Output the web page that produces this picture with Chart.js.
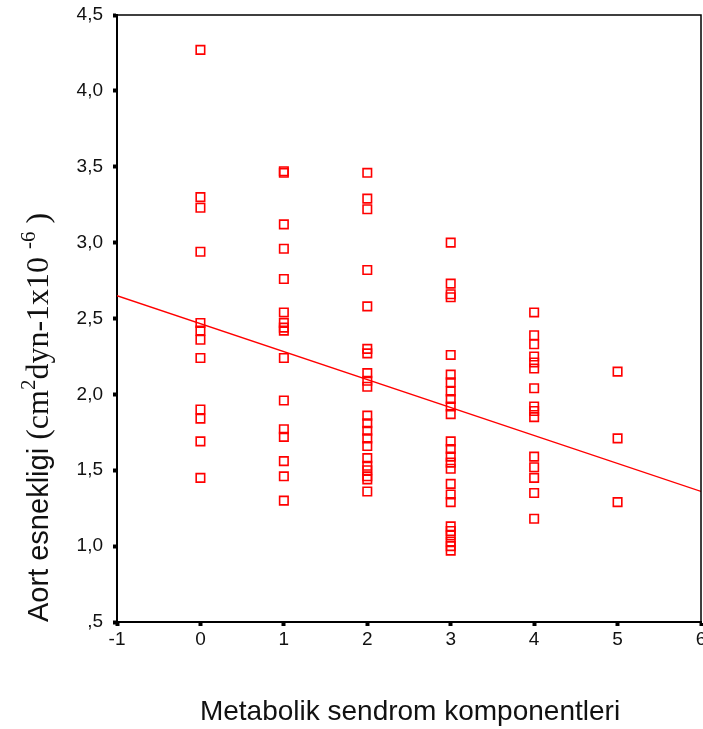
<!DOCTYPE html>
<html>
<head>
<meta charset="utf-8">
<script src="https://cdn.jsdelivr.net/npm/chart.js@4.4.1/dist/chart.umd.min.js"></script>
<style>
html, body { margin: 0; padding: 0; background: #fff; }
canvas { display: block; }
</style>
</head>
<body>
<canvas id="scatterChart" width="703" height="729"></canvas>
<script>
// metabolic syndrome component counts (x) and aortic elasticity values (y) per group
var components = [0, 1, 2, 3, 4, 5];
var group0 = [4.27, 3.30, 3.23, 2.94, 2.47, 2.42, 2.36, 2.24, 1.90, 1.84, 1.69, 1.45];
var group1 = [3.47, 3.46, 3.12, 2.96, 2.76, 2.54, 2.47, 2.44, 2.42, 2.24, 1.96, 1.77, 1.72, 1.56, 1.46, 1.30];
var group2 = [3.46, 3.29, 3.22, 2.82, 2.58, 2.30, 2.27, 2.14, 2.09, 2.05, 1.86, 1.81, 1.76, 1.71, 1.66, 1.58, 1.53, 1.50, 1.46, 1.44, 1.36];
var group3 = [3.00, 2.73, 2.66, 2.64, 2.26, 2.13, 2.08, 2.02, 1.97, 1.92, 1.87, 1.69, 1.64, 1.59, 1.55, 1.51, 1.41, 1.34, 1.29, 1.13, 1.10, 1.07, 1.03, 1.00, 0.97];
var group4 = [2.54, 2.39, 2.33, 2.25, 2.21, 2.17, 2.04, 1.92, 1.89, 1.85, 1.59, 1.52, 1.45, 1.35, 1.18];
var group5 = [2.15, 1.71, 1.29];
var groups = [group0, group1, group2, group3, group4, group5];

// fitted regression line end points
var fitX = [-1, 6];
var fitY = [2.65, 1.36];

var xTitle = 'Metabolik sendrom komponentleri';
var yTitleMain = 'Aort esnekligi ';

var red = '#ff0000';

var scatterPoints = [];
for (var i = 0; i < components.length; i++) {
	for (var j = 0; j < groups[i].length; j++) {
		scatterPoints.push({ x: components[i], y: groups[i][j] });
	}
}
var fitPoints = [];
for (var k = 0; k < fitX.length; k++) {
	fitPoints.push({ x: fitX[k], y: fitY[k] });
}

var fmtTick = function(v) {
	var s = Number(v).toFixed(1).replace('.', ',');
	if (s.indexOf('0,') === 0) s = s.substring(1);
	return s;
};

// frame + axis titles
var decorPlugin = {
	id: 'decor',
	afterDraw: function(chart) {
		var ctx = chart.ctx;
		var a = chart.chartArea;
		ctx.save();
		// top and right frame
		ctx.strokeStyle = '#000';
		ctx.lineWidth = 1.5;
		ctx.beginPath();
		ctx.moveTo(a.left, a.top);
		ctx.lineTo(a.right, a.top);
		ctx.lineTo(a.right, a.bottom);
		ctx.stroke();

		// x title
		ctx.fillStyle = '#111';
		ctx.font = '28px "Liberation Sans", Arial, sans-serif';
		ctx.textAlign = 'center';
		ctx.textBaseline = 'alphabetic';
		ctx.fillText(xTitle, 410, 720);

		// y title, rotated, mixed fonts
		ctx.translate(48, 622);
		ctx.rotate(-Math.PI / 2);
		ctx.textAlign = 'left';
		var pos = 0;
		var serif = '"Liberation Serif", "Times New Roman", serif';
		var parts = [
			{ t: yTitleMain, f: '29px "Liberation Sans", Arial, sans-serif', dy: 0 },
			{ t: '(cm', f: '32px ' + serif, dy: 0 },
			{ t: '2', f: '21px ' + serif, dy: -13 },
			{ t: 'dyn-1x10 ', f: '32px ' + serif, dy: 0 },
			{ t: '-6', f: '21px ' + serif, dy: -13 },
			{ t: ' )', f: '32px ' + serif, dy: 0 }
		];
		for (var p = 0; p < parts.length; p++) {
			ctx.font = parts[p].f;
			ctx.fillText(parts[p].t, pos, parts[p].dy);
			pos += ctx.measureText(parts[p].t).width;
		}
		ctx.restore();
	}
};

var chart = new Chart(document.getElementById('scatterChart'), {
	type: 'scatter',
	data: {
		datasets: [
			{
				label: 'Aort esnekligi',
				data: scatterPoints,
				pointStyle: 'rect',
				pointRadius: 6,
				pointHoverRadius: 6,
				pointBorderWidth: 1.6,
				pointBorderColor: red,
				pointBackgroundColor: 'rgba(255,255,255,0)',
				showLine: false
			},
			{
				label: 'fit',
				type: 'line',
				data: fitPoints,
				borderColor: red,
				borderWidth: 1.3,
				pointRadius: 0,
				fill: false
			}
		]
	},
	options: {
		responsive: false,
		animation: false,
		devicePixelRatio: 1,
		layout: { autoPadding: false, padding: { top: 15, right: 2, left: 0, bottom: 0 } },
		plugins: {
			legend: { display: false },
			tooltip: { enabled: false }
		},
		scales: {
			x: {
				type: 'linear',
				min: -1,
				max: 6,
				afterFit: function(s) { s.height = 107; s.paddingLeft = 0; s.paddingRight = 0; },
				ticks: {
					stepSize: 1,
					color: '#111',
					padding: 2,
					font: { family: '"Liberation Sans", Arial, sans-serif', size: 19 }
				},
				grid: { drawOnChartArea: false, tickLength: 4, tickWidth: 4, tickColor: '#000' },
				border: { color: '#000', width: 2 }
			},
			y: {
				type: 'linear',
				min: 0.5,
				max: 4.5,
				afterFit: function(s) { s.width = 117; s.paddingTop = 0; s.paddingBottom = 0; },
				ticks: {
					stepSize: 0.5,
					color: '#111',
					padding: 10,
					font: { family: '"Liberation Sans", Arial, sans-serif', size: 19 },
					callback: function(v) { return fmtTick(v); }
				},
				grid: { drawOnChartArea: false, tickLength: 4, tickWidth: 4, tickColor: '#000' },
				border: { color: '#000', width: 2 }
			}
		}
	},
	plugins: [decorPlugin]
});
</script>
</body>
</html>
